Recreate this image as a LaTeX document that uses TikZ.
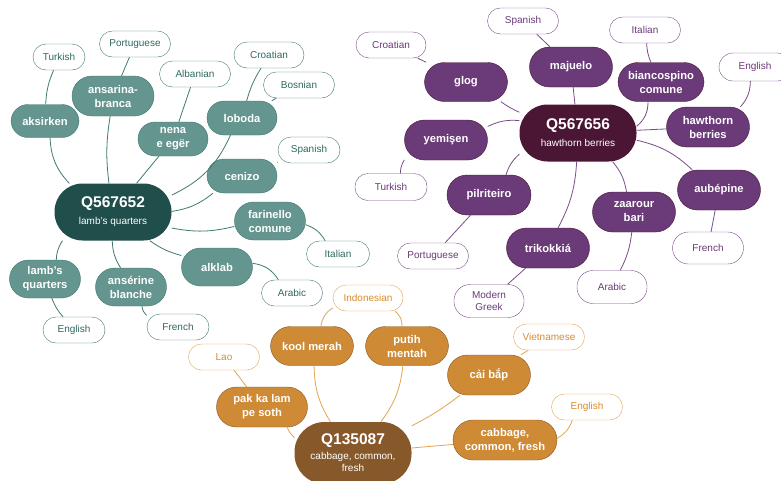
\documentclass[tikz,border=0pt]{standalone}
\usepackage{fontspec}
\setmainfont{Liberation Sans}
\definecolor{gdark}{HTML}{1F4E4B}
\definecolor{gmid}{HTML}{64958E}
\definecolor{gline}{HTML}{3F7A72}
\definecolor{gtext}{HTML}{2E6A62}
\definecolor{pdark}{HTML}{4A1634}
\definecolor{pmid}{HTML}{6B3A78}
\definecolor{pline}{HTML}{7B4C88}
\definecolor{odark}{HTML}{87592A}
\definecolor{omid}{HTML}{CE8A35}
\definecolor{oline}{HTML}{E3A453}
\definecolor{otext}{HTML}{D98B2E}
\newcommand{\hubsub}{\mdseries\fontsize{10}{12}\selectfont}
\begin{document}
\begin{tikzpicture}[x=1pt, y=1pt,
	hub/.style={rounded corners=28pt, minimum width=117pt, minimum height=57pt, align=center, text=white, inner sep=0pt, font=\bfseries\fontsize{15.5}{17}\selectfont},
	sub/.style={rounded corners=17pt, minimum width=70pt, minimum height=34pt, align=center, text=white, inner sep=0pt, font=\bfseries\fontsize{11.2}{14}\selectfont},
	lang/.style={rounded corners=13pt, minimum width=70pt, minimum height=26pt, align=center, fill=white, inner sep=0pt, font=\fontsize{10}{12.5}\selectfont},
	gsub/.style={sub, fill=gmid, draw=gline}, glang/.style={lang, draw=gline, text=gtext},
	psub/.style={sub, fill=pmid, draw=pdark, minimum width=83pt, minimum height=40pt, rounded corners=20pt}, plang/.style={lang, draw=pline, text=pmid},
	osub/.style={sub, fill=omid, draw=odark, minimum width=83pt, minimum height=40pt, rounded corners=20pt}, olang/.style={lang, draw=oline, text=otext},
	gedge/.style={draw=gline, line width=0.8pt},
	pedge/.style={draw=pline, line width=0.8pt},
	oedge/.style={draw=oline, line width=0.8pt}]
	\useasboundingbox[fill=white] (0,0) rectangle (781,-480);
	
	% 1. 绿色簇
	\node[hub, fill=gdark] (q1) at (113,-212) {Q567652\\{\hubsub lamb's quarters}};
	\node[gsub, minimum width=68pt, minimum height=33pt] (aksirken) at (45,-121) {aksirken};
	\node[gsub, minimum width=82pt, minimum height=40pt, rounded corners=20pt] (ansarina) at (113,-96) {ansarina-\\branca};
	\node[gsub] (nena) at (173,-139) {nena\\e egër};
	\node[gsub] (loboda) at (242,-118) {loboda};
	\node[gsub] (cenizo) at (242,-176) {cenizo};
	\node[gsub, minimum width=71pt, minimum height=38pt, rounded corners=19pt] (farinello) at (270,-221) {farinello\\comune};
	\node[gsub, minimum width=71pt, minimum height=38pt, rounded corners=19pt] (alklab) at (217,-267) {alklab};
	\node[gsub, minimum width=71pt, minimum height=38pt, rounded corners=19pt] (lambsq) at (45,-279) {lamb's\\quarters};
	\node[gsub, minimum width=71pt, minimum height=38pt, rounded corners=19pt] (anserine) at (131,-287) {ansérine\\blanche};
	\node[glang, minimum width=52pt] (gtr) at (59,-57) {Turkish};
	\node[glang, minimum width=71pt] (gpt) at (135,-44) {Portuguese};
	\node[glang, minimum width=71pt] (gsq) at (195,-74) {Albanian};
	\node[glang] (ghr) at (269,-55) {Croatian};
	\node[glang, minimum width=71pt] (gbs) at (299,-85) {Bosnian};
	\node[glang, minimum width=62pt] (ges) at (309,-150) {Spanish};
	\node[glang, minimum width=63pt] (git) at (338,-254) {Italian};
	\node[glang, minimum width=61pt] (gar) at (292,-293) {Arabic};
	\node[glang, minimum width=62pt] (gen) at (74,-330) {English};
	\node[glang, minimum width=62pt] (gfr) at (178,-327) {French};
	
	\draw[gedge] (q1) to[bend left=20] (aksirken);
	\draw[gedge] (aksirken) to[bend left=10] (gtr);
	\draw[gedge] (q1) to[bend left=8] (ansarina);
	\draw[gedge] (ansarina) -- (gpt);
	\draw[gedge] (q1) -- (nena);
	\draw[gedge] (nena) -- (gsq);
	\draw[gedge] (q1) to[bend right=20] (loboda);
	\draw[gedge] (loboda) to[bend left=8] (ghr);
	\draw[gedge] (loboda) -- (gbs);
	\draw[gedge] (q1) to[bend right=15] (cenizo);
	\draw[gedge] (cenizo) -- (ges);
	\draw[gedge] (q1) to[bend right=12] (farinello);
	\draw[gedge] (farinello) to[bend left=20] (git);
	\draw[gedge] (q1) to[bend right=10] (alklab);
	\draw[gedge] (alklab) to[bend left=25] (gar);
	\draw[gedge] (q1) to[bend right=15] (lambsq);
	\draw[gedge] (lambsq) to[bend right=10] (gen);
	\draw[gedge] (q1) to[bend right=15] (anserine);
	\draw[gedge] (anserine) to[bend right=20] (gfr);
	
	% 2. 紫色簇
	\node[hub, fill=pdark] (q2) at (578,-133) {Q567656\\{\hubsub hawthorn berries}};
	\node[psub, minimum height=39pt] (glog) at (466,-82) {glog};
	\node[psub] (majuelo) at (571,-67) {majuelo};
	\node[psub, minimum width=86pt, minimum height=39pt] (bianco) at (661,-82) {biancospino\\comune};
	\node[psub] (hawthorn) at (708,-127) {hawthorn\\berries};
	\node[psub] (yemisen) at (446,-140) {yemişen};
	\node[psub, minimum width=84pt] (pilriteiro) at (489,-195) {pilriteiro};
	\node[psub] (trikokkia) at (548,-248) {trikokkiá};
	\node[psub] (zaarour) at (634,-212) {zaarour\\bari};
	\node[psub] (aubepine) at (719,-190) {aubépine};
	\node[plang, minimum width=71pt] (pes) at (523,-21) {Spanish};
	\node[plang] (phr) at (391,-45) {Croatian};
	\node[plang, minimum width=71pt] (pit) at (645,-30) {Italian};
	\node[plang, minimum width=72pt, minimum height=28pt, rounded corners=14pt] (pen) at (755,-67) {English};
	\node[plang, minimum width=72pt, minimum height=27pt] (ptr) at (391,-187) {Turkish};
	\node[plang, minimum width=71pt] (ppt) at (433,-256) {Portuguese};
	\node[plang, minimum height=33pt, rounded corners=16pt] (pgr) at (489,-301) {Modern\\Greek};
	\node[plang, minimum height=33pt, rounded corners=16pt] (par) at (612,-287) {Arabic};
	\node[plang, minimum width=71pt, minimum height=32pt, rounded corners=16pt] (pfr) at (708,-248) {French};
	
	\draw[pedge] (q2) to[bend left=5] (glog);
	\draw[pedge] (glog) -- (phr);
	\draw[pedge] (q2) -- (majuelo);
	\draw[pedge] (majuelo) -- (pes);
	\draw[pedge] (q2) to[bend right=25] (bianco);
	\draw[pedge] (bianco) to[bend left=10] (pit);
	\draw[pedge] (q2) -- (hawthorn);
	\draw[pedge] (hawthorn) to[bend right=20] (pen);
	\draw[pedge] (q2) to[bend right=15] (yemisen);
	\draw[pedge] (yemisen) to[bend right=15] (ptr);
	\draw[pedge] (q2) to[bend right=15] (pilriteiro);
	\draw[pedge] (pilriteiro) -- (ppt);
	\draw[pedge] (q2) to[bend left=12] (trikokkia);
	\draw[pedge] (trikokkia) -- (pgr);
	\draw[pedge] (q2) to[bend left=15] (zaarour);
	\draw[pedge] (zaarour) to[bend left=10] (par);
	\draw[pedge] (q2) to[bend left=15] (aubepine);
	\draw[pedge] (aubepine) -- (pfr);
	
	% 3. 橙色簇
	\node[hub, fill=odark, minimum height=62pt, rounded corners=30pt] (q3) at (353,-453) {Q135087\\[-2pt]{\hubsub cabbage, common,}\\[-5pt]{\hubsub fresh}};
	\node[osub, minimum height=39pt] (kool) at (312,-346) {kool merah};
	\node[osub, minimum height=39pt] (putih) at (407,-346) {putih\\mentah};
	\node[osub] (caibap) at (489,-375) {cải bắp};
	\node[osub, minimum width=91pt] (pak) at (262,-407) {pak ka lam\\pe soth};
	\node[osub, minimum width=104pt] (cabbage) at (505,-440) {cabbage,\\common, fresh};
	\node[olang] (oid) at (368,-298) {Indonesian};
	\node[olang, minimum width=71pt] (olao) at (224,-357) {Lao};
	\node[olang, minimum width=71pt] (ovi) at (549,-337) {Vietnamese};
	\node[olang, minimum width=71pt] (oen) at (587,-407) {English};
	
	\draw[oedge] (q3) to[bend left=12] (pak);
	\draw[oedge] (pak) -- (olao);
	\draw[oedge] (q3) to[bend left=15] (kool);
	\draw[oedge] (kool) to[bend left=25] (oid);
	\draw[oedge] (q3) to[bend right=15] (putih);
	\draw[oedge] (putih) to[bend right=25] (oid);
	\draw[oedge] (q3) to[bend right=5] (caibap);
	\draw[oedge] (caibap) -- (ovi);
	\draw[oedge] (q3) -- (cabbage);
	\draw[oedge] (cabbage) to[bend right=20] (oen);
\end{tikzpicture}
\end{document}
